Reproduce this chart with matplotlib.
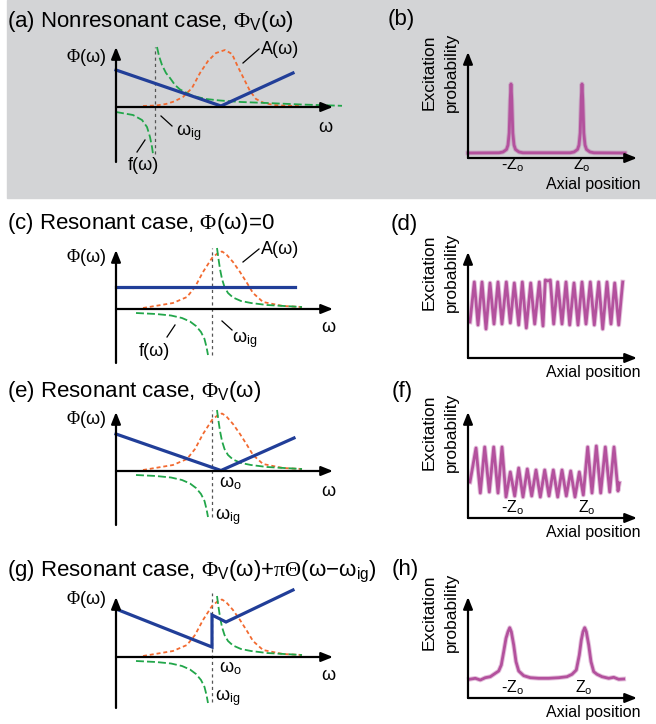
import matplotlib
matplotlib.use("Agg")
import matplotlib.pyplot as plt
from matplotlib.patches import Rectangle

plt.rcParams["font.family"] = "Liberation Sans"
plt.rcParams["mathtext.fontset"] = "custom"
plt.rcParams["mathtext.rm"] = "Liberation Serif"
plt.rcParams["mathtext.it"] = "Liberation Serif:italic"
plt.rcParams["mathtext.bf"] = "Liberation Serif:bold"
plt.rcParams["mathtext.sf"] = "Liberation Sans"

# ---- data (arbitrary units) ----

# (a) nonresonant
a_phi_w = [0, 10.5, 17.7]
a_phi = [3.7, 0.1, 3.4]
a_amp_w = [2.7, 4.0, 5.0, 5.8, 6.7, 7.6, 8.4, 9.2, 10.0, 10.9, 11.6, 12.2, 12.8, 13.4, 14.0, 14.8, 15.8, 17.0, 18.4]
a_amp = [0.1, 0.15, 0.3, 0.55, 1.0, 1.9, 3.4, 4.6, 5.4, 5.7, 5.3, 4.0, 2.8, 1.6, 0.8, 0.4, 0.2, 0.12, 0.1]
a_f_right_w = [4.1, 4.3, 4.6, 5.0, 5.4, 5.9, 6.4, 7.7, 9.0, 10.4, 12.5, 15.1, 18.5, 22.6]
a_f_right = [6.0, 5.1, 4.2, 3.4, 2.9, 2.2, 1.75, 1.1, 0.8, 0.65, 0.5, 0.4, 0.25, 0.12]
a_f_left_w = [0, 1.7, 2.6, 3.1, 3.4, 3.6, 3.7]
a_f_left = [-0.5, -0.8, -1.3, -2.0, -3.0, -4.0, -4.7]
a_wig = 3.9

# resonant cases (c, e, g) share A(w) and f(w)
res_amp_w = [2.7, 5.7, 7.1, 7.9, 8.7, 9.6, 10.2, 10.6, 11.0, 11.7, 12.4, 13.1, 13.7, 14.7, 16.7, 18.6]
res_amp = [0.1, 0.6, 1.2, 2.2, 3.7, 5.1, 5.6, 5.75, 5.5, 4.7, 3.7, 2.6, 1.6, 0.7, 0.3, 0.2]
res_f_right_w = [10.1, 10.25, 10.4, 10.6, 10.85, 11.2, 11.7, 12.5, 13.5, 15.1, 16.8, 18.6]
res_f_right = [6.1, 5.0, 4.0, 3.0, 2.2, 1.6, 1.15, 0.8, 0.6, 0.4, 0.3, 0.2]
res_f_left_w = [2.0, 4.0, 5.5, 6.6, 7.4, 8.0, 8.5, 8.85, 9.05, 9.2]
res_f_left = [-0.4, -0.5, -0.65, -0.9, -1.25, -1.7, -2.3, -3.0, -3.8, -4.6]
res_wig = 9.6

c_phi_w = [0, 17.9]
c_phi = [2.2, 2.2]
e_phi_w = [0, 10.5, 17.8]
e_phi = [3.7, 0.05, 3.3]
g_phi_w = [0, 9.6, 9.6, 11.0, 17.7]
g_phi = [4.8, 1.0, 4.2, 3.5, 6.7]

# excitation probability vs axial position
b_x = [0, 3.1, 3.5, 3.85, 4.0, 4.12, 4.22, 4.3, 4.38, 4.48, 4.6, 4.75, 5.1, 5.5,
       10.2, 10.6, 10.95, 11.1, 11.22, 11.32, 11.4, 11.48, 11.58, 11.7, 11.85, 12.2, 12.6, 15.7]
b_y = [0.5, 0.52, 0.6, 0.85, 1.3, 2.5, 5.8, 7.4, 5.8, 2.5, 1.3, 0.85, 0.6, 0.52,
       0.52, 0.6, 0.85, 1.3, 2.5, 5.8, 7.4, 5.8, 2.5, 1.3, 0.85, 0.6, 0.52, 0.5]
d_x = [0.2, 0.63, 1.0, 1.4, 1.8, 2.2, 2.6, 3.0, 3.4, 3.83, 4.23, 4.63, 5.07, 5.43,
       5.83, 6.27, 6.67, 7.13, 7.5, 7.73, 8.0, 8.23, 8.57, 8.97, 9.4, 9.8, 10.17,
       10.6, 11.0, 11.4, 11.8, 12.23, 12.63, 13.07, 13.47, 13.9, 14.3, 14.67, 15.07, 15.47]
d_y = [3.6, 7.6, 3.3, 7.6, 2.9, 7.5, 3.4, 7.6, 3.4, 7.6, 3.5, 7.5, 3.3, 7.6, 3.0,
       7.5, 3.4, 7.6, 3.2, 7.8, 7.7, 7.8, 3.4, 7.6, 3.4, 7.6, 3.3, 7.5, 3.3, 7.6,
       3.4, 7.6, 3.3, 7.6, 2.9, 7.6, 3.4, 7.5, 3.3, 7.6]
f_x = [0.2, 0.8, 1.23, 1.67, 2.13, 2.57, 3.0, 3.4, 3.8, 4.23, 4.67, 5.07, 5.5, 5.93,
       6.37, 6.8, 7.23, 7.67, 8.1, 8.53, 8.97, 9.4, 9.83, 10.27, 10.7, 11.13, 11.53,
       11.97, 12.4, 12.83, 13.27, 13.73, 14.17, 14.6, 15.0, 15.13]
f_y = [3.6, 7.0, 2.5, 7.1, 2.6, 7.1, 2.5, 7.1, 2.1, 4.6, 2.2, 5.0, 2.1, 4.9, 2.2,
       4.8, 2.1, 4.8, 2.2, 4.8, 2.1, 4.8, 2.2, 4.7, 2.1, 4.6, 2.3, 7.1, 2.5, 7.2,
       2.5, 7.1, 2.6, 7.1, 2.7, 3.5]
h_x = [0.13, 0.73, 1.23, 1.73, 2.23, 2.73, 3.07, 3.33, 3.57, 3.8, 4.0, 4.17, 4.33,
       4.57, 4.8, 5.07, 5.57, 6.23, 7.07, 8.07, 9.07, 9.9, 10.4, 10.83, 11.13, 11.33,
       11.5, 11.67, 11.83, 12.07, 12.3, 12.57, 12.9, 13.4, 14.07, 14.57, 15.07, 15.57]
h_y = [1.87, 1.97, 1.8, 2.03, 2.13, 2.47, 2.7, 3.3, 4.63, 5.97, 6.63, 7.03, 6.63,
       5.3, 3.63, 2.7, 2.23, 2.03, 1.97, 1.97, 2.03, 2.13, 2.37, 2.8, 4.3, 5.8,
       6.63, 7.03, 6.63, 5.3, 3.63, 2.63, 2.37, 2.13, 1.97, 2.07, 1.87, 1.9]

z_labels = ["-Z$_\\mathsf{o}$", "Z$_\\mathsf{o}$"]
b_z_pos = [4.4, 11.4]
f_z_pos = [4.4, 11.9]
h_z_pos = [4.4, 11.6]

# ---- styles ----
BLUE = "#213e98"
ORANGE = "#f26a30"
GREEN = "#22a64a"
GREY = "#555555"
PURPLE = "#b3519d"
W, H = 656, 724

fig = plt.figure(figsize=(W / 100, H / 100), dpi=100)
fig.add_artist(Rectangle((7 / W, 1 - 198 / H), (W - 7) / W, 198 / H,
                         transform=fig.transFigure, color="#d3d4d6", zorder=0))


def unit_axes(ox, oy, xr, yr):
    # 1 data unit = 10 px, origin at pixel (ox, oy)
    left = (ox + 10 * xr[0]) / W
    bottom = (H - oy + 10 * yr[0]) / H
    ax = fig.add_axes([left, bottom, 10 * (xr[1] - xr[0]) / W, 10 * (yr[1] - yr[0]) / H])
    ax.set_xlim(*xr)
    ax.set_ylim(*yr)
    ax.axis("off")
    return ax


def arrow(ax, x0, y0, x1, y1):
    ax.annotate("", xy=(x1, y1), xytext=(x0, y0), annotation_clip=False,
                arrowprops=dict(arrowstyle="-|>,head_length=0.5,head_width=0.2",
                                mutation_scale=14, lw=1.6, color="k",
                                shrinkA=0, shrinkB=0))


def title(px, py, s):
    fig.text(px / W, 1 - py / H, s, fontsize=16, ha="left", va="center")


def omega_panel(oy, ybot, ytop, phi_w, phi, amp_w, amp, fr_w, fr, fl_w, fl, wig, wtop, wbot):
    ax = unit_axes(116, oy, (-8, 24), (-7, 7))
    arrow(ax, 0, ybot, 0, ytop)
    arrow(ax, 0, 0, 21.7, 0)
    ax.plot([wig, wig], [wbot, wtop], color=GREY, lw=0.9, ls=(0, (2.5, 2.5)))
    ax.plot(amp_w, amp, color=ORANGE, lw=1.3, ls=(0, (2.2, 1.6)), clip_on=False)
    ax.plot(fr_w, fr, color=GREEN, lw=1.3, ls=(0, (4.4, 1.7)), clip_on=False)
    ax.plot(fl_w, fl, color=GREEN, lw=1.3, ls=(0, (4.4, 1.7)), clip_on=False)
    ax.plot(phi_w, phi, color=BLUE, lw=2.3, clip_on=False, solid_joinstyle="miter")
    return ax


def prob_panel(oy, ytop, x, y, xlab_y=-1.5):
    ax = unit_axes(468, oy, (-6, 18), (-3, 11))
    arrow(ax, 0, 0, 0, ytop)
    arrow(ax, 0, 0, 16.9, 0)
    ax.plot(x, y, color=PURPLE, lw=3.4, alpha=0.35, clip_on=False)
    ax.plot(x, y, color=PURPLE, lw=2.0, clip_on=False)
    ax.text(-3.9, 8.6, "Excitation", rotation=90, fontsize=12.5, ha="center", va="center")
    ax.text(-1.7, 8.6, "probability", rotation=90, fontsize=12.5, ha="center", va="center")
    ax.text(12.5, xlab_y, "Axial position", fontsize=11.5, ha="center", va="center")
    return ax


def pointer(ax, xs, ys):
    ax.plot(xs, ys, color="k", lw=0.9, clip_on=False)


LBL = dict(fontsize=13, ha="center", va="center")

# (a)
title(7, 22, "(a) Nonresonant case, $\\Phi_\\mathsf{V}$(ω)")
ax = omega_panel(107, -5.5, 6.0, a_phi_w, a_phi, a_amp_w, a_amp, a_f_right_w, a_f_right,
                 a_f_left_w, a_f_left, a_wig, 6.0, -4.7)
ax.text(-3.0, 4.9, "$\\Phi$(ω)", **LBL)
ax.text(16.4, 5.7, "A(ω)", **LBL)
pointer(ax, [14.3, 12.7], [5.8, 4.4])
ax.text(7.3, -2.6, "ω$_\\mathsf{ig}$", **LBL)
pointer(ax, [5.6, 4.5], [-1.9, -0.9])
ax.text(2.7, -5.8, "f(ω)", **LBL)
pointer(ax, [2.1, 2.9], [-4.5, -3.3])
ax.text(20.9, -2.1, "ω", **LBL)

# (b)
title(388, 20, "(b)")
ax = prob_panel(158, 10.6, b_x, b_y, xlab_y=-2.6)
for zx, lab in zip(b_z_pos, z_labels):
    ax.text(zx, -0.7, lab, fontsize=11.5, ha="center", va="center")

# (c)
title(7, 224, "(c) Resonant case, $\\Phi$(ω)=0")
ax = omega_panel(309, -5.4, 5.9, c_phi_w, c_phi, res_amp_w, res_amp, res_f_right_w,
                 res_f_right, res_f_left_w, res_f_left, res_wig, 6.1, -4.6)
ax.text(-3.0, 5.1, "$\\Phi$(ω)", **LBL)
ax.text(16.4, 5.9, "A(ω)", **LBL)
pointer(ax, [14.3, 12.7], [6.0, 4.7])
ax.text(12.9, -3.1, "ω$_\\mathsf{ig}$", **LBL)
pointer(ax, [11.6, 10.6], [-2.1, -1.2])
ax.text(3.8, -4.3, "f(ω)", **LBL)
pointer(ax, [5.1, 5.9], [-2.8, -1.6])
ax.text(21.2, -1.9, "ω", **LBL)

# (d)
title(391, 225, "(d)")
prob_panel(358, 10.6, d_x, d_y)

# (e)
title(7, 392, "(e) Resonant case, $\\Phi_\\mathsf{V}$(ω)")
ax = omega_panel(471, -5.4, 5.9, e_phi_w, e_phi, res_amp_w, res_amp, res_f_right_w,
                 res_f_right, res_f_left_w, res_f_left, res_wig, 6.1, -4.6)
ax.text(-3.0, 5.1, "$\\Phi$(ω)", **LBL)
ax.text(11.4, -1.2, "ω$_\\mathsf{o}$", **LBL)
ax.text(11.2, -4.6, "ω$_\\mathsf{ig}$", **LBL)
ax.text(21.2, -2.1, "ω", **LBL)

# (f)
title(392, 391, "(f)")
ax = prob_panel(518, 10.6, f_x, f_y)
for zx, lab in zip(f_z_pos, z_labels):
    ax.text(zx, 1.0, lab, fontsize=11.5, ha="center", va="center")

# (g)
title(7, 571, "(g) Resonant case, $\\Phi_\\mathsf{V}$(ω)+$\\mathrm{\\pi}\\Theta$(ω−ω$_\\mathsf{ig}$)")
ax = omega_panel(657, -5.1, 6.0, g_phi_w, g_phi, res_amp_w, res_amp, res_f_right_w,
                 res_f_right, res_f_left_w, res_f_left, res_wig, 6.4, -4.5)
ax.text(-3.0, 5.7, "$\\Phi$(ω)", **LBL)
ax.text(11.4, -1.1, "ω$_\\mathsf{o}$", **LBL)
ax.text(11.2, -4.1, "ω$_\\mathsf{ig}$", **LBL)
ax.text(21.2, -1.9, "ω", **LBL)

# (h)
title(392, 569, "(h)")
ax = prob_panel(698, 10.1, h_x, h_y)
for zx, lab in zip(h_z_pos, z_labels):
    ax.text(zx, 1.0, lab, fontsize=11.5, ha="center", va="center")

fig.savefig("out.png", dpi=100)
plt.close(fig)
